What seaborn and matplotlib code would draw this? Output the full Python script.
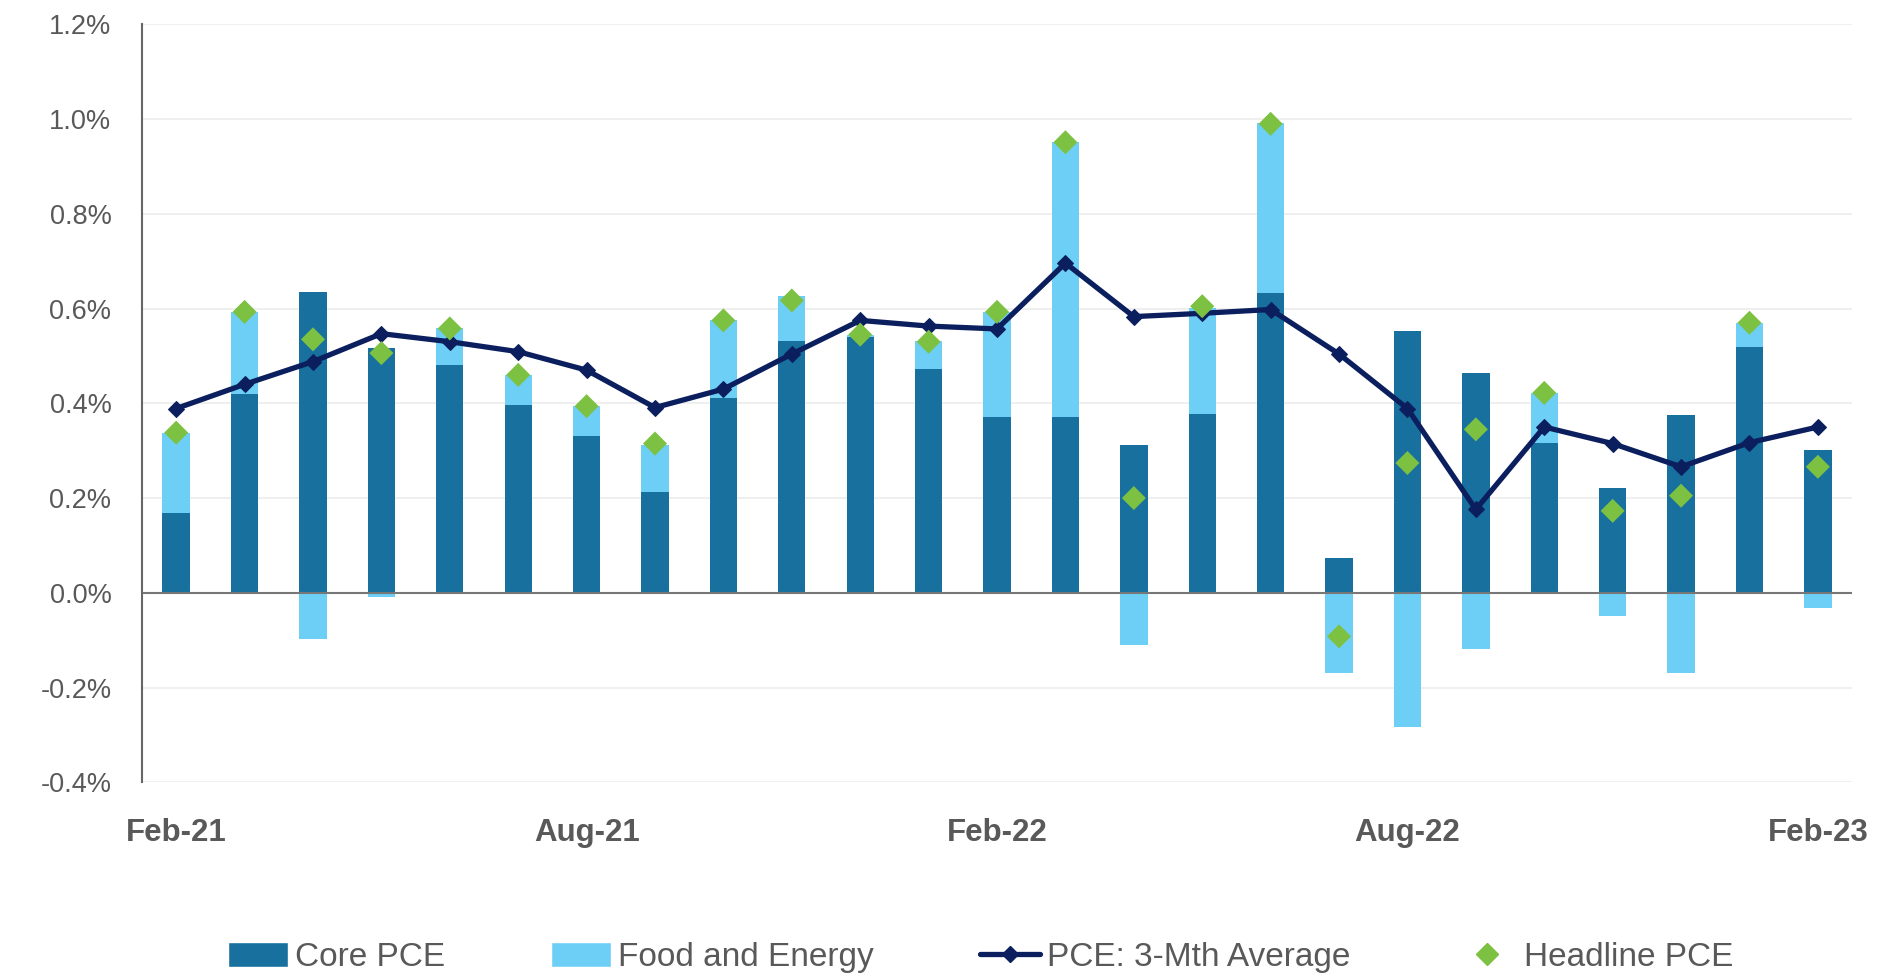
import numpy as np
import pandas as pd
import matplotlib
matplotlib.use("Agg")
import matplotlib.pyplot as plt
import seaborn as sns
from matplotlib.patches import Patch
from matplotlib.lines import Line2D

# monthly contributions to PCE inflation, % m/m
months = ['Feb-21', 'Mar-21', 'Apr-21', 'May-21', 'Jun-21', 'Jul-21', 'Aug-21',
          'Sep-21', 'Oct-21', 'Nov-21', 'Dec-21', 'Jan-22', 'Feb-22', 'Mar-22',
          'Apr-22', 'May-22', 'Jun-22', 'Jul-22', 'Aug-22', 'Sep-22', 'Oct-22',
          'Nov-22', 'Dec-22', 'Jan-23', 'Feb-23']
core_pce = [0.169, 0.420, 0.634, 0.517, 0.481, 0.396, 0.332, 0.212, 0.412, 0.532,
            0.540, 0.473, 0.371, 0.371, 0.312, 0.378, 0.632, 0.074, 0.552, 0.465,
            0.317, 0.222, 0.376, 0.519, 0.302]
food_energy = [0.169, 0.173, -0.097, -0.008, 0.077, 0.064, 0.062, 0.100, 0.163, 0.095,
               0.005, 0.059, 0.222, 0.580, -0.110, 0.223, 0.360, -0.169, -0.284, -0.118,
               0.105, -0.049, -0.169, 0.051, -0.033]
headline_pce = [0.338, 0.593, 0.535, 0.506, 0.558, 0.460, 0.394, 0.315, 0.575, 0.617,
                0.545, 0.530, 0.593, 0.951, 0.200, 0.605, 0.990, -0.092, 0.274, 0.345,
                0.422, 0.173, 0.205, 0.570, 0.266]
avg_3m = [0.389, 0.440, 0.488, 0.547, 0.530, 0.509, 0.470, 0.391, 0.430, 0.504,
          0.575, 0.563, 0.557, 0.696, 0.583, 0.590, 0.598, 0.504, 0.389, 0.176,
          0.350, 0.315, 0.266, 0.317, 0.350]
tick_months = ['Feb-21', 'Aug-21', 'Feb-22', 'Aug-22', 'Feb-23']

c_core = '#17709e'
c_food = '#6dcff6'
c_line = '#0b1f5e'
c_head = '#7dc142'
c_text = '#595959'

df = pd.DataFrame({'month': months, 'core': core_pce, 'food': food_energy,
                   'headline': headline_pce, 'avg': avg_3m})
df['pos'] = np.arange(len(df))
df['food_bottom'] = np.where(df['food'] >= 0, df['core'], 0.0)

sns.set_style('white')
plt.rcParams['font.family'] = ['Liberation Sans', 'DejaVu Sans']

fig = plt.figure(figsize=(18.98, 9.73), dpi=100)
ax = fig.add_axes([0.0748, 0.196, 0.901, 0.779])

bw = 0.4
sns.barplot(data=df, x='pos', y='core', color=c_core, width=bw, native_scale=True,
            saturation=1, linewidth=0, edgecolor=c_core, ax=ax, zorder=2)
ax.bar(df['pos'], df['food'], bottom=df['food_bottom'], width=bw, color=c_food,
       linewidth=0, zorder=2)
sns.lineplot(data=df, x='pos', y='avg', color=c_line, lw=3.8, marker='D',
             markersize=8, markeredgecolor=c_line, ax=ax, zorder=3)
sns.scatterplot(data=df, x='pos', y='headline', color=c_head, marker='D', s=150,
                edgecolor='none', ax=ax, zorder=4)

ax.set_xlim(-0.5, 24.5)
ax.set_ylim(-0.4, 1.2)
yt = np.round(np.arange(-0.4, 1.21, 0.2), 1)
ax.set_yticks(yt)
ax.set_yticklabels([f'{v:.1f}%' for v in yt], fontsize=19.5, color=c_text)
ax.set_xticks([months.index(m) for m in tick_months])
ax.set_xticklabels(tick_months, fontsize=22.5, fontweight='bold', color=c_text)
ax.tick_params(axis='both', length=0)
ax.tick_params(axis='x', pad=26)
ax.tick_params(axis='y', pad=22)
ax.set_xlabel('')
ax.set_ylabel('')

ax.yaxis.grid(True, color='#ececec', lw=1.2, zorder=0)
ax.axhline(0, color='#777777', lw=1.5, zorder=2.5)
for s in ['top', 'right', 'bottom']:
    ax.spines[s].set_visible(False)
ax.spines['left'].set_color('#666666')
ax.spines['left'].set_linewidth(1.5)

handles = [
    Patch(facecolor=c_core, label='Core PCE'),
    Patch(facecolor=c_food, label='Food and Energy'),
    Line2D([0], [0], color=c_line, lw=3.8, marker='D', markersize=8, label='PCE: 3-Mth Average'),
    Line2D([0], [0], color=c_head, lw=0, marker='D', markersize=11, label='Headline PCE'),
]
leg = fig.legend(handles=handles, loc='center', bbox_to_anchor=(0.5166, 0.016),
                 ncol=4, frameon=False, fontsize=24, handlelength=1.8, handleheight=0.8,
                 columnspacing=3.2, handletextpad=0.2)
for t in leg.get_texts():
    t.set_color(c_text)

fig.savefig('out.png', dpi=100, facecolor='white')
